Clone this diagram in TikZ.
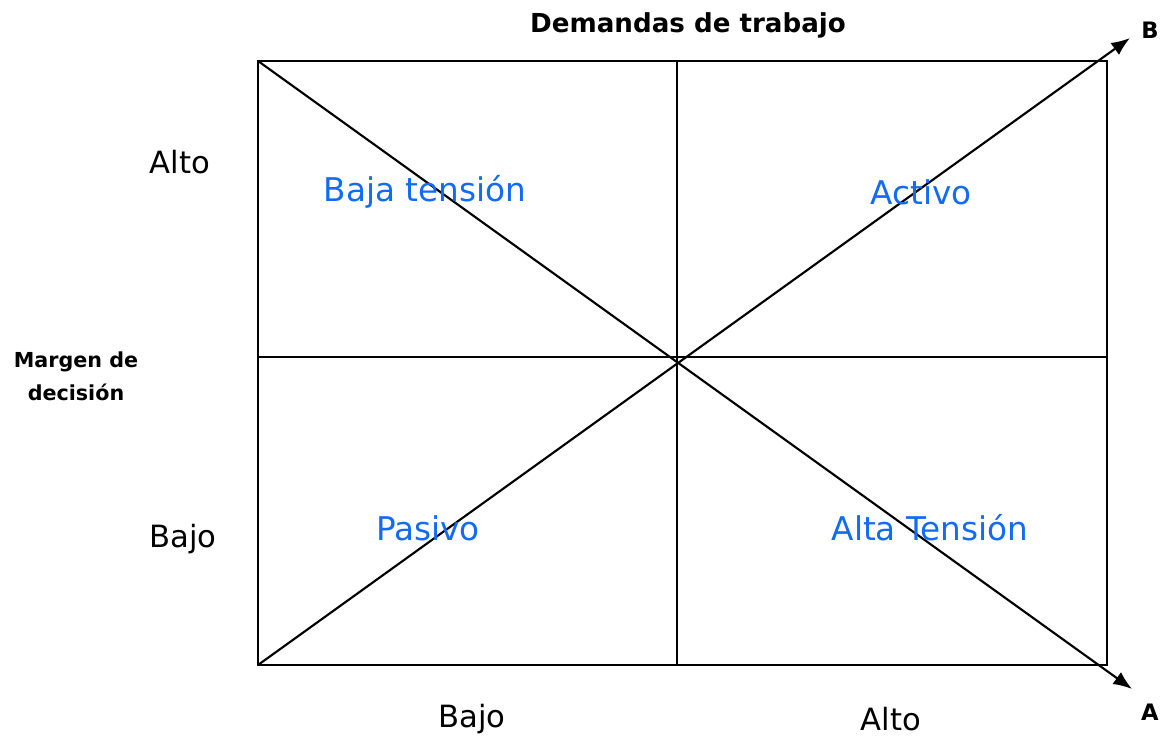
\documentclass[tikz,border=0pt]{standalone}
\usepackage{fontspec}
\setmainfont{DejaVu Sans}
\usepackage{xcolor}
\usetikzlibrary{arrows.meta}
\definecolor{cuadrante}{RGB}{17,107,245}
\tikzset{
  eje/.style={font=\fontsize{23}{27}\selectfont},
  zona/.style={text=cuadrante, font=\fontsize{24.5}{29}\selectfont},
  titulo/.style={font=\bfseries\fontsize{19.6}{24}\selectfont},
  punta/.style={font=\bfseries\fontsize{17}{20}\selectfont},
  flecha/.style={-{Latex[length=14pt,width=11pt]}},
}
\begin{document}
\begin{tikzpicture}[x=0.75pt, y=-0.75pt, line width=1.6pt]
\useasboundingbox (0,0) rectangle (1162,737);
\coordinate (tl) at (258,61);
\coordinate (tr) at (1107,61);
\coordinate (bl) at (258,665);
\coordinate (br) at (1107,665);
\coordinate (tm) at (677,61);
\coordinate (bm) at (677,665);
\coordinate (lm) at (258,357);
\coordinate (rm) at (1107,357);
\coordinate (tipA) at (1132,689);
\coordinate (tipB) at (1130,38);
\draw (tl) rectangle (br);
\draw (tm) -- (bm);
\draw (lm) -- (rm);
\draw[flecha] (tl) -- (tipA);
\draw[flecha] (bl) -- (tipB);
% etiquetas
\node[titulo] (demandas) at (688,25) {Demandas de trabajo};
\node[font=\bfseries\fontsize{15.5}{25}\selectfont, align=center] (margen) at (76,376) {Margen de\\decisión};
\node[eje] (altoY) at (180,162) {Alto};
\node[eje] (bajoY) at (183,539) {Bajo};
\node[eje] (bajoX) at (472,719) {Bajo};
\node[eje] (altoX) at (891,719) {Alto};
\node[punta] (B) at (1150,30) {B};
\node[punta] (A) at (1150,712) {A};
% cuadrantes
\node[zona] (baja) at (425,192) {Baja tensión};
\node[zona] (activo) at (921,192) {Activo};
\node[zona] (pasivo) at (428,528) {Pasivo};
\node[zona] (alta) at (930,528) {Alta Tensión};
\end{tikzpicture}
\end{document}
